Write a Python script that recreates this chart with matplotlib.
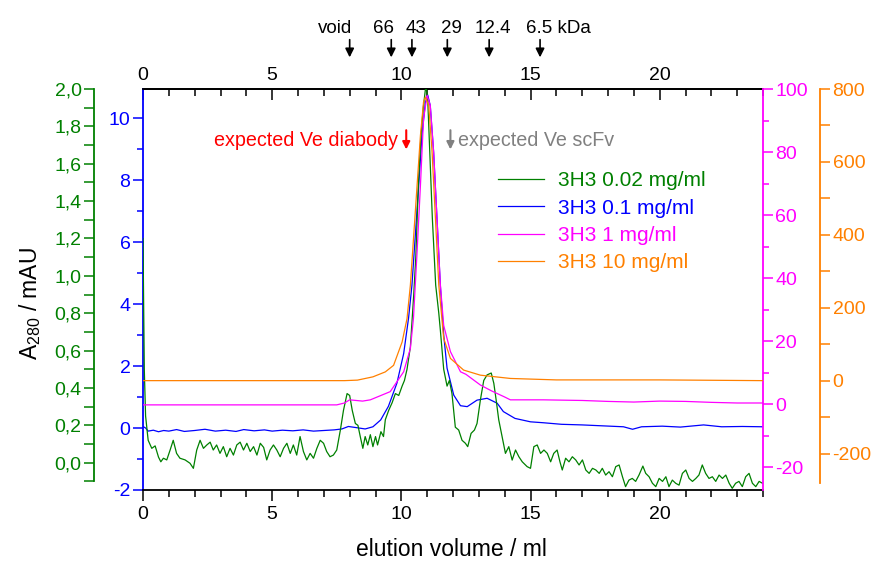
import matplotlib
matplotlib.use('Agg')
import matplotlib.pyplot as plt
from matplotlib.ticker import MultipleLocator, FixedLocator, FuncFormatter

plt.rcParams['font.family'] = ['Liberation Sans', 'DejaVu Sans']
plt.rcParams['axes.unicode_minus'] = False

GREEN = '#008000'
BLUE = '#0000ff'
MAGENTA = '#ff00ff'
ORANGE = '#ff8000'

# ---- data (elution volume in ml) ----
# 3H3 0.02 mg/ml, green axis (mAU)
vol_002 = [0.0, 0.05, 0.1, 0.2, 0.34, 0.47, 0.6, 0.69, 0.79, 0.92, 1.05, 1.17, 1.3, 1.43,
           1.63, 1.82, 1.95, 2.08, 2.21, 2.34, 2.47, 2.6, 2.72, 2.85, 2.98, 3.11, 3.24,
           3.37, 3.5, 3.63, 3.76, 3.89, 4.02, 4.15, 4.28, 4.41, 4.54, 4.67, 4.79, 4.92,
           5.05, 5.18, 5.31, 5.44, 5.57, 5.7, 5.82, 5.95, 6.08, 6.21, 6.34, 6.47, 6.6,
           6.73, 6.86, 6.99, 7.11, 7.24, 7.37, 7.5, 7.64, 7.76, 7.9, 8.0, 8.1, 8.22,
           8.32, 8.41, 8.51, 8.6, 8.7, 8.8, 8.9, 9.0, 9.08, 9.21, 9.31, 9.38, 9.51,
           9.64, 9.77, 9.9, 10.03, 10.12, 10.22, 10.35, 10.48, 10.56, 10.66, 10.76,
           10.85, 10.95, 11.02, 11.09, 11.2, 11.33, 11.45, 11.51, 11.64, 11.77, 11.86,
           11.96, 12.09, 12.22, 12.35, 12.48, 12.57, 12.7, 12.83, 12.93, 13.06, 13.19,
           13.32, 13.48, 13.58, 13.67, 13.77, 13.9, 14.03, 14.16, 14.29, 14.42, 14.55,
           14.68, 14.87, 15.0, 15.13, 15.26, 15.39, 15.52, 15.65, 15.78, 15.9, 16.03,
           16.14, 16.23, 16.36, 16.49, 16.62, 16.75, 16.88, 17.01, 17.14, 17.27, 17.4,
           17.53, 17.66, 17.78, 17.91, 18.04, 18.17, 18.3, 18.43, 18.56, 18.68, 18.81,
           18.94, 19.07, 19.2, 19.35, 19.46, 19.59, 19.72, 19.85, 19.98, 20.11, 20.24,
           20.36, 20.49, 20.62, 20.75, 20.88, 21.01, 21.14, 21.27, 21.4, 21.52, 21.65,
           21.78, 21.91, 22.04, 22.17, 22.3, 22.43, 22.56, 22.69, 22.81, 22.94, 23.07,
           23.2, 23.33, 23.46, 23.59, 23.72, 23.85, 23.98]
abs_002 = [1.2, 0.5, 0.25, 0.12, 0.077, 0.09, 0.03, 0.005, 0.024, 0.015, 0.068, 0.12,
           0.05, 0.024, 0.015, -0.003, -0.03, 0.068, 0.12, 0.077, 0.095, 0.11, 0.068,
           0.095, 0.05, 0.086, 0.032, 0.077, 0.041, 0.095, 0.11, 0.068, 0.104, 0.06,
           0.086, 0.041, 0.104, 0.082, 0.015, 0.068, 0.095, 0.068, 0.032, 0.077, 0.104,
           0.05, 0.095, 0.041, 0.14, 0.06, 0.015, 0.05, 0.024, 0.077, 0.12, 0.104, 0.06,
           0.032, 0.041, 0.068, 0.175, 0.28, 0.37, 0.36, 0.28, 0.21, 0.2, 0.14, 0.077,
           0.14, 0.095, 0.15, 0.086, 0.14, 0.095, 0.166, 0.14, 0.23, 0.28, 0.32, 0.37,
           0.36, 0.41, 0.44, 0.5, 0.62, 0.9, 1.1, 1.49, 1.75, 1.9, 2.02, 1.95, 1.7, 1.31,
           0.95, 0.8, 0.71, 0.5, 0.41, 0.44, 0.37, 0.19, 0.175, 0.12, 0.104, 0.086,
           0.157, 0.175, 0.21, 0.336, 0.44, 0.47, 0.48, 0.425, 0.336, 0.23, 0.14, 0.05,
           0.086, 0.014, 0.068, 0.032, 0.005, -0.021, -0.03, 0.086, 0.095, 0.05, 0.068,
           0.05, 0.005, 0.05, 0.068, 0.005, -0.039, 0.024, 0.005, 0.032, 0.015, -0.012,
           0.015, -0.039, -0.057, -0.03, -0.039, -0.057, -0.03, -0.066, -0.048, -0.075,
           -0.021, -0.012, -0.075, -0.128, -0.093, -0.084, -0.1, -0.066, -0.018, -0.057,
           -0.075, -0.11, -0.128, -0.084, -0.1, -0.075, -0.128, -0.093, -0.11, -0.12,
           -0.057, -0.039, -0.084, -0.1, -0.084, -0.066, -0.012, -0.057, -0.084, -0.075,
           -0.1, -0.066, -0.084, -0.066, -0.11, -0.137, -0.11, -0.1, -0.128, -0.075,
           -0.057, -0.11, -0.128, -0.1, -0.11]

# 3H3 0.1 mg/ml, blue axis (mAU)
vol_01 = [0.0, 0.1, 0.2, 0.4, 0.6, 0.8, 1.0, 1.3, 1.6, 2.0, 2.4, 2.8, 3.2, 3.6, 3.9, 4.3,
          4.7, 5.0, 5.4, 5.8, 6.2, 6.6, 7.0, 7.4, 7.7, 7.95, 8.2, 8.6, 8.9, 9.2, 9.5,
          9.83, 10.09, 10.28, 10.41, 10.54, 10.67, 10.8, 10.93, 11.02, 11.12, 11.25,
          11.38, 11.51, 11.64, 11.77, 12.03, 12.29, 12.55, 12.93, 13.32, 13.71, 13.95,
          14.4, 15.0, 15.5, 16.2, 17.0, 17.8, 18.6, 18.95, 19.3, 20.1, 20.8, 21.7, 22.4,
          23.2, 24.0]
abs_01 = [0.05, 0.0, -0.1, -0.07, -0.12, -0.08, -0.1, -0.05, -0.11, -0.08, -0.04, -0.1,
          -0.07, -0.11, -0.05, -0.09, -0.06, -0.1, -0.07, -0.09, -0.06, -0.1, -0.08,
          -0.06, -0.03, 0.05, 0.02, -0.03, 0.04, 0.26, 0.7, 1.45, 2.4, 3.55, 4.6, 6.2,
          7.8, 9.45, 10.5, 10.75, 10.4, 8.9, 6.76, 4.6, 3.0, 1.93, 1.06, 0.72, 0.69, 0.9,
          0.96, 0.8, 0.53, 0.31, 0.2, 0.17, 0.12, 0.1, 0.07, 0.04, -0.04, 0.04, 0.06,
          0.03, 0.1, 0.04, 0.05, 0.04]

# 3H3 1 mg/ml, magenta axis (mAU)
vol_1 = [0.0, 7.5, 7.8, 8.0, 8.5, 8.8, 9.57, 10.09, 10.35, 10.47, 10.61, 10.74, 10.86,
         11.0, 11.12, 11.25, 11.38, 11.51, 11.64, 11.9, 12.29, 12.5, 13.06, 13.5, 14.0,
         14.22, 15.5, 17.0, 18.0, 19.0, 20.0, 21.0, 22.0, 23.0, 24.0]
abs_1 = [-0.2, -0.2, 0.4, 1.4, 1.0, 1.4, 4.0, 10.3, 17.7, 27.3, 48.4, 69.5, 90.6, 98.0,
         94.8, 80.0, 59.0, 38.0, 25.0, 16.7, 10.3, 9.5, 6.1, 4.2, 2.3, 1.4, 1.4, 1.2,
         0.9, 0.7, 1.0, 0.9, 0.6, 0.4, 0.4]

# 3H3 10 mg/ml, orange axis (mAU)
vol_10 = [0.0, 7.8, 8.3, 8.9, 9.38, 9.7, 10.03, 10.22, 10.35, 10.48, 10.61, 10.74, 10.86,
          10.93, 11.06, 11.19, 11.32, 11.45, 11.64, 11.9, 12.41, 13.06, 14.22, 16.0,
          20.0, 24.0]
abs_10 = [0, 0, 1.4, 10.4, 24, 42, 106, 170, 262, 399, 536, 673, 764, 778, 755, 627,
          445, 262, 116, 61, 29, 15, 6, 2, 2, 0]

series_labels = ['3H3 0.02 mg/ml', '3H3 0.1 mg/ml', '3H3 1 mg/ml', '3H3 10 mg/ml']

# calibration markers on top axis
marker_vol = [8.0, 9.61, 10.41, 11.78, 13.4, 15.37]
marker_text = ['void', '66', '43', '29', '12.4', '6.5 kDa']
marker_text_x = [7.44, 9.3, 10.58, 11.94, 13.53, 14.84]
marker_ha = ['center', 'center', 'center', 'center', 'center', 'left']

TICK_FS = 14

fig = plt.figure(figsize=(8.73, 5.62), dpi=100)
ax = fig.add_axes([143 / 873, 1 - 490 / 562, 620 / 873, 401 / 562])

# host axis: blue
ax.set_xlim(0, 24)
ax.set_ylim(-2, 10.94)
ax.xaxis.set_major_locator(MultipleLocator(5))
ax.xaxis.set_minor_locator(MultipleLocator(1))
ax.yaxis.set_major_locator(MultipleLocator(2))
ax.yaxis.set_minor_locator(MultipleLocator(1))
ax.tick_params(axis='x', which='both', direction='out', labelsize=TICK_FS, width=1.1)
ax.tick_params(axis='x', which='major', length=8)
ax.tick_params(axis='x', which='minor', length=5)
ax.tick_params(axis='y', which='both', direction='out', colors=BLUE,
               labelsize=TICK_FS, width=1.1, pad=2)
ax.tick_params(axis='y', which='major', length=7)
ax.tick_params(axis='y', which='minor', length=4.5)
ax.spines['left'].set_color(BLUE)
ax.spines['right'].set_visible(False)
for s in ax.spines.values():
    s.set_linewidth(1.3)

# top axis
top = ax.secondary_xaxis('top')
top.xaxis.set_major_locator(MultipleLocator(5))
top.xaxis.set_minor_locator(MultipleLocator(1))
top.tick_params(which='both', direction='in', labelsize=TICK_FS, width=1.1)
top.tick_params(which='major', length=8)
top.tick_params(which='minor', length=5)
top.spines['top'].set_linewidth(1.3)

def only_spine(a, side, color, pos=None):
    for k, s in a.spines.items():
        s.set_visible(k == side)
    a.spines[side].set_color(color)
    a.spines[side].set_linewidth(1.3)
    if pos is not None:
        a.spines[side].set_position(('axes', pos))

# green axis (outer left)
g = ax.twinx()
only_spine(g, 'left', GREEN, -0.079)
g.yaxis.tick_left()
g.set_ylim(-0.146, 2.0)
g.spines['left'].set_bounds(-0.1, 2.0)
g.yaxis.set_major_locator(FixedLocator([0, 0.2, 0.4, 0.6, 0.8, 1.0, 1.2, 1.4, 1.6, 1.8, 2.0]))
g.yaxis.set_minor_locator(FixedLocator([-0.1, 0.1, 0.3, 0.5, 0.7, 0.9, 1.1, 1.3, 1.5, 1.7, 1.9]))
g.yaxis.set_major_formatter(FuncFormatter(lambda v, p: f'{round(v, 1) + 0.0:.1f}'.replace('.', ',')))
g.tick_params(axis='y', which='both', direction='out', colors=GREEN,
              labelsize=TICK_FS, width=1.1, pad=2)
g.tick_params(axis='y', which='major', length=7)
g.tick_params(axis='y', which='minor', length=7)

# magenta axis (inner right)
m = ax.twinx()
only_spine(m, 'right', MAGENTA)
m.set_ylim(-27.2, 100)
m.yaxis.set_major_locator(MultipleLocator(20))
m.yaxis.set_minor_locator(MultipleLocator(10))
m.tick_params(axis='y', which='both', direction='out', colors=MAGENTA,
              labelsize=TICK_FS, width=1.1, pad=2)
m.tick_params(axis='y', which='major', length=7)
m.tick_params(axis='y', which='minor', length=4.5)

# orange axis (outer right)
o = ax.twinx()
only_spine(o, 'right', ORANGE, 1.092)
o.set_ylim(-300, 800)
o.spines['right'].set_bounds(-280, 800)
o.yaxis.set_major_locator(MultipleLocator(200))
o.yaxis.set_minor_locator(FixedLocator([-100, 100, 300, 500, 700]))
o.tick_params(axis='y', which='both', direction='out', colors=ORANGE,
              labelsize=TICK_FS, width=1.1, pad=2)
o.tick_params(axis='y', which='major', length=7)
o.tick_params(axis='y', which='minor', length=7)

LW = 0.9
l1, = g.plot(vol_002, abs_002, color=GREEN, lw=LW)
l2, = ax.plot(vol_01, abs_01, color=BLUE, lw=LW)
l3, = m.plot(vol_1, abs_1, color=MAGENTA, lw=LW)
l4, = o.plot(vol_10, abs_10, color=ORANGE, lw=LW)

leg = o.legend([l1, l2, l3, l4], series_labels, loc='upper left',
               bbox_to_anchor=(0.5726, 0.795), frameon=False, fontsize=15,
               handlelength=2.2, handletextpad=0.7, labelspacing=0.4,
               borderpad=0, borderaxespad=0)
for t, c in zip(leg.get_texts(), [GREEN, BLUE, MAGENTA, ORANGE]):
    t.set_color(c)

# expected elution volumes
ax.annotate('', xy=(10.19, 8.9), xytext=(10.19, 9.7),
            arrowprops=dict(arrowstyle='-|>', color='red', lw=1.5, mutation_scale=11))
ax.text(9.88, 9.29, 'expected Ve diabody', color='red', fontsize=14.2,
        ha='right', va='center')
ax.annotate('', xy=(11.9, 8.9), xytext=(11.9, 9.7),
            arrowprops=dict(arrowstyle='-|>', color='#808080', lw=1.5, mutation_scale=11))
ax.text(12.21, 9.29, 'expected Ve scFv', color='#808080', fontsize=14.2,
        ha='left', va='center')

# calibration arrows above the top axis
trans = ax.get_xaxis_transform()
for xv, lab, xt, ha in zip(marker_vol, marker_text, marker_text_x, marker_ha):
    ax.annotate('', xy=(xv, 1.072), xycoords=trans, xytext=(xv, 1.13), textcoords=trans,
                arrowprops=dict(arrowstyle='-|>', color='black', lw=1.2, mutation_scale=13),
                annotation_clip=False)
    ax.text(xt, 1.15, lab, transform=trans, ha=ha, va='center', fontsize=13.5)

fig.text(0.517, 1 - 549 / 562, 'elution volume / ml', ha='center', va='center', fontsize=16.5)
fig.text(30 / 873, 1 - 304 / 562, 'A$_{\\mathregular{280}}$ / mAU', rotation=90,
         ha='center', va='center', fontsize=16.5)

fig.savefig('out.png', dpi=100)
